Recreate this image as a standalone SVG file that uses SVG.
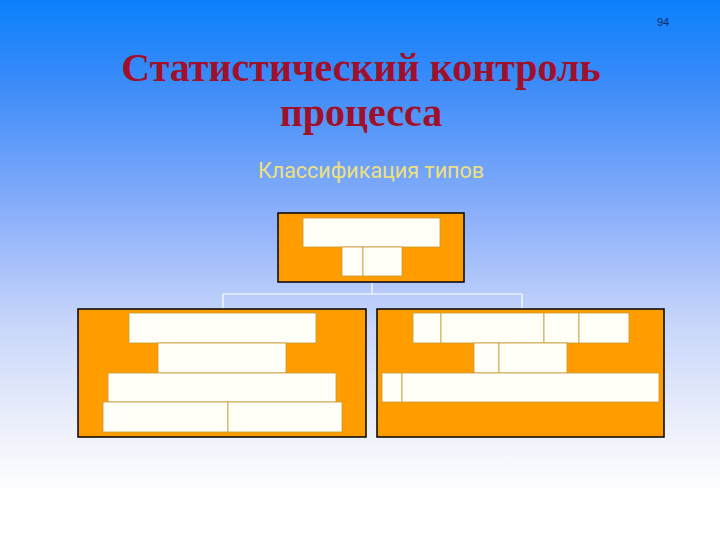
<svg xmlns="http://www.w3.org/2000/svg" width="720" height="540" viewBox="0 0 720 540">
<defs>
<linearGradient id="bg" x1="0" y1="0" x2="0" y2="1">
<stop offset="0" stop-color="#0a80fb"/>
<stop offset="0.15" stop-color="#3a8bf9"/>
<stop offset="0.4" stop-color="#8db0fb"/>
<stop offset="0.6" stop-color="#c8d6fa"/>
<stop offset="0.8" stop-color="#eef1fb"/>
<stop offset="0.92" stop-color="#ffffff"/>
</linearGradient>
<style>
.node{fill:#ff9c00;stroke:#000;stroke-width:1.5}
.cell{fill:#fffff8;stroke:#c89a30;stroke-width:0.8}
.conn{fill:none;stroke:#ffffff;stroke-width:1.2}
.title{font-family:"Liberation Serif","DejaVu Serif",serif;font-weight:bold;font-size:40px;fill:#a1102a;text-anchor:middle}
</style>
</defs>
<rect width="720" height="540" fill="url(#bg)"/>
<text x="663" y="26" font-family="Liberation Sans, Arial, sans-serif" font-size="11" fill="#1a2a6a" text-anchor="middle">94</text>
<text class="title" x="361" y="81">Статистический контроль</text>
<text class="title" x="361" y="126">процесса</text>
<text x="371" y="178" font-family="Roboto, 'Noto Sans', sans-serif" font-size="21.5" fill="#ece080" text-anchor="middle">Классификация типов</text>
<g id="connectors">
<path class="conn" d="M372 282 V294 M223 294 H522 M223 294 V309 M522 294 V309"/>
</g>
<g id="node-top">
<rect class="node" x="278" y="213" width="186" height="69"/>
<rect class="cell" x="303" y="218" width="137" height="29"/>
<rect class="cell" x="342" y="247" width="21" height="29"/>
<rect class="cell" x="363" y="247" width="39" height="29"/>
</g>
<g id="node-left">
<rect class="node" x="78" y="309" width="288" height="128"/>
<rect class="cell" x="129" y="313" width="187" height="30"/>
<rect class="cell" x="158" y="343" width="128" height="30"/>
<rect class="cell" x="108" y="373" width="228" height="29"/>
<rect class="cell" x="103" y="402" width="125" height="30"/>
<rect class="cell" x="228" y="402" width="114" height="30"/>
</g>
<g id="node-right">
<rect class="node" x="377" y="309" width="287" height="128"/>
<rect class="cell" x="413" y="313" width="28" height="30"/>
<rect class="cell" x="441" y="313" width="103" height="30"/>
<rect class="cell" x="544" y="313" width="35" height="30"/>
<rect class="cell" x="579" y="313" width="50" height="30"/>
<rect class="cell" x="474" y="343" width="25" height="30"/>
<rect class="cell" x="499" y="343" width="68" height="30"/>
<rect class="cell" x="382" y="373" width="20" height="29"/>
<rect class="cell" x="402" y="373" width="257" height="29"/>
</g>
</svg>
